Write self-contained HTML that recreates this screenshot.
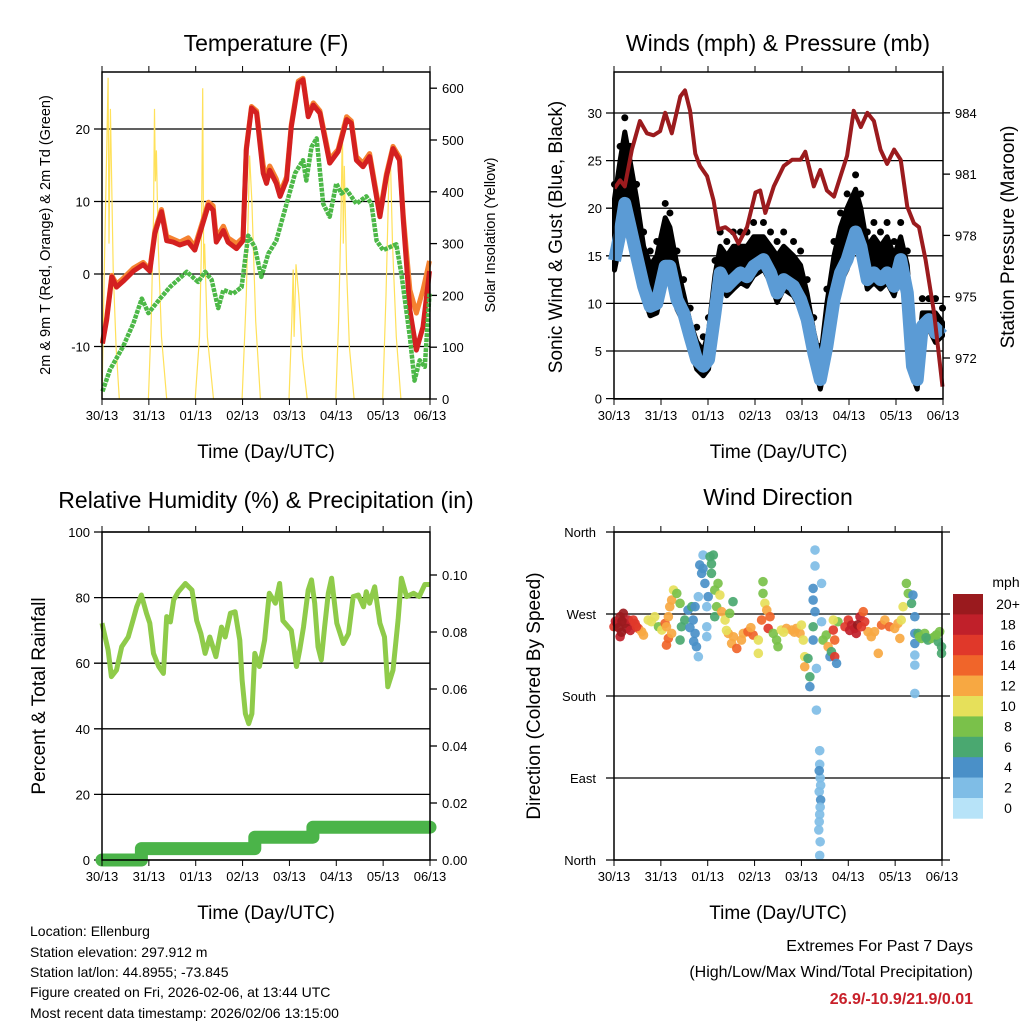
<!DOCTYPE html>
<html><head><meta charset="utf-8">
<style>
html,body{margin:0;padding:0;background:#fff;}
svg{display:block;font-family:"Liberation Sans",Arial,sans-serif;}
</style></head>
<body>
<svg id="root" width="1024" height="1024" viewBox="0 0 1024 1024" xmlns="http://www.w3.org/2000/svg">
<rect x="0" y="0" width="1024" height="1024" fill="#fff"/>
<g id="g1"></g>
<g id="g2"></g>
<g id="g3"></g>
<g id="g4"></g>
<g id="info" font-size="14" fill="#000">
  <text x="30" y="936">Location: Ellenburg</text>
  <text x="30" y="957">Station elevation: 297.912 m</text>
  <text x="30" y="977">Station lat/lon: 44.8955; -73.845</text>
  <text x="30" y="997">Figure created on Fri, 2026-02-06, at 13:44 UTC</text>
  <text x="30" y="1018">Most recent data timestamp: 2026/02/06 13:15:00</text>
  <text x="973" y="951" text-anchor="end" font-size="16">Extremes For Past 7 Days</text>
  <text x="973" y="977" text-anchor="end" font-size="16">(High/Low/Max Wind/Total Precipitation)</text>
  <text x="973" y="1004" text-anchor="end" font-size="16" font-weight="bold" fill="#c8202a">26.9/-10.9/21.9/0.01</text>
</g>
</svg>
<script>
// ---------- data ----------
const dayLabels = ["30/13","31/13","01/13","02/13","03/13","04/13","05/13","06/13"];
const tempTicks = [-10,0,10,20];
const solarTicks = [0,100,200,300,400,500,600];
const windTicks = [0,5,10,15,20,25,30];
const presTicks = [972,975,978,981,984];
const rhTicks = [0,20,40,60,80,100];
const precipTicks = [0,0.02,0.04,0.06,0.08,0.10];
const dirTicks = [0,90,180,270,360];
const dirLabels = ["North","East","South","West","North"];
const speedBins = ["0","2","4","6","8","10","12","14","16","18","20+"];
const speedColors = ["#b7e3f8","#7fbde6","#4a90c8","#4aa870","#7ac14a","#e6e05a","#f7a842","#f0652a","#e0382a","#c0202a","#9a1a1e"];

const tDays = [0.01,0.10,0.21,0.31,0.45,0.67,0.88,1.02,1.13,1.27,1.38,1.52,1.66,1.84,1.98,2.13,2.27,2.37,2.44,2.59,2.69,2.87,3.01,3.08,3.19,3.30,3.44,3.51,3.58,3.72,3.80,3.94,4.04,4.19,4.29,4.40,4.51,4.65,4.86,5.04,5.22,5.32,5.43,5.57,5.71,5.93,6.07,6.21,6.35,6.43,6.57,6.71,6.85,6.99];
const temp2m = [-9.6,-6.3,-0.4,-1.8,-1.0,0.4,1.3,0.4,5.6,8.6,4.6,4.4,4.0,4.4,3.3,6.5,9.5,8.8,4.4,6.0,4.4,3.5,4.6,17.1,22.9,22.2,13.9,12.5,14.3,12.5,10.7,13.0,20.3,26.3,26.8,21.7,23.3,22.2,15.3,16.9,21.3,20.8,15.7,14.8,16.2,7.9,13.4,17.3,15.7,7.4,-5.0,-10.5,-7.3,0.4];
const temp9m = [-9.4,-6.0,-0.2,-1.4,-0.6,0.8,1.6,0.6,6.0,8.9,5.2,4.8,4.4,5.0,3.8,6.9,9.9,9.4,5.0,6.6,5.0,4.2,5.0,17.4,23.1,22.5,15.0,13.2,14.9,13.1,11.2,13.4,20.6,26.6,27.0,22.0,23.6,22.5,15.8,17.2,21.7,21.1,16.2,15.3,16.6,8.4,13.8,17.6,16.1,8.0,-2.2,-5.4,-2.2,1.8];
const tdDays = [0.01,0.17,0.45,0.67,0.85,0.99,1.24,1.45,1.81,2.05,2.20,2.34,2.48,2.59,2.80,2.98,3.12,3.26,3.40,3.55,3.72,3.94,4.12,4.29,4.36,4.47,4.58,4.72,4.86,5.00,5.11,5.22,5.43,5.64,5.75,5.86,6.00,6.14,6.28,6.39,6.57,6.67,6.78,6.89,6.99];
const dewpoint = [-16.2,-13.2,-10.0,-6.8,-3.4,-5.4,-3.4,-1.8,0.3,-1.1,0.3,-0.8,-4.7,-2.2,-2.7,-1.8,5.3,3.7,-0.4,2.8,4.6,9.7,13.9,15.7,12.9,17.5,18.7,9.7,7.9,12.5,11.1,11.6,9.7,10.7,9.7,4.6,3.3,3.7,4.1,0.0,-8.7,-14.7,-11.9,-12.8,-2.7];
const solarDays = [0.0,0.05,0.10,0.13,0.15,0.18,0.20,0.24,0.30,0.37, 0.99,1.05,1.10,1.12,1.14,1.16,1.20,1.27,1.38, 1.99,2.08,2.12,2.15,2.17,2.19,2.25,2.38, 2.99,3.08,3.15,3.20,3.28,3.38, 3.99,4.05,4.08,4.10,4.14,4.20,4.28,4.38, 4.99,5.05,5.10,5.13,5.15,5.17,5.22,5.28,5.38, 5.99,6.06,6.12,6.15,6.20,6.28,6.38,7.0];
const solarVals = [0,250,480,620,300,560,450,250,100,0, 0,150,350,560,420,480,300,120,0, 0,120,280,600,250,300,120,0, 0,200,470,380,150,0, 0,150,250,120,260,200,80,0, 0,150,350,530,300,450,250,100,0, 0,200,420,480,300,120,0,0];

const wDays = [0.01,0.13,0.23,0.34,0.48,0.63,0.77,0.91,1.09,1.19,1.34,1.48,1.62,1.76,1.90,2.01,2.15,2.26,2.40,2.54,2.69,2.83,2.97,3.18,3.33,3.47,3.61,3.82,3.97,4.11,4.25,4.39,4.53,4.68,4.82,4.96,5.14,5.25,5.39,5.53,5.67,5.81,5.96,6.10,6.24,6.35,6.45,6.56,6.70,6.84,6.99];
const sonicWind = [14.5,17.4,20.5,18.1,15,11.8,9.7,10,13.9,13.9,10.4,9,6.5,4.1,3.4,4.1,9,13.2,11.8,12.5,13.2,12.8,13.9,14.6,13.2,11.1,12.5,11.8,10.4,8.3,4.8,2.0,5.5,10.4,13.2,14.6,17.5,16,12.5,13.2,12.5,13.2,11.8,14.6,11.1,3.4,2.0,7.6,8.3,6.9,7.6];
const gustWind = [21,25,28,25,21,16,14,15,19,18,14,11,8,6,5,7,13,16,15,16,16,16,17,17,16,15,16,15,14,11,7,4,10,15,18,20,22,20,16,17,16,17,15,17,14,6,4,9,9,9,8];
const pDays = [0.01,0.13,0.23,0.38,0.55,0.70,0.84,0.98,1.09,1.23,1.41,1.51,1.62,1.73,1.83,1.98,2.12,2.22,2.37,2.54,2.65,2.83,3.01,3.11,3.22,3.40,3.61,3.79,3.97,4.07,4.25,4.39,4.53,4.68,4.82,4.96,5.10,5.25,5.39,5.53,5.67,5.81,5.96,6.10,6.24,6.38,6.49,6.63,6.81,6.99];
const pressure = [980.3,980.7,980.4,982.2,983.6,983.0,982.9,983.1,984.0,983.0,984.8,985.1,984.1,982.0,981.4,980.9,979.7,978.3,978.4,978.1,977.6,978.4,980.1,980.2,979.1,980.4,981.4,981.7,981.7,982.1,980.4,981.2,980.2,979.9,980.9,981.9,984.1,983.3,984.0,983.6,982.2,981.5,982.2,981.7,979.4,978.6,978.4,976.8,974.2,970.6];

const rhDays = [0.00,0.13,0.20,0.31,0.42,0.56,0.66,0.74,0.84,0.95,1.02,1.10,1.21,1.31,1.38,1.46,1.53,1.63,1.78,1.92,2.02,2.11,2.20,2.30,2.43,2.55,2.63,2.74,2.84,2.94,2.99,3.06,3.13,3.20,3.26,3.36,3.47,3.57,3.70,3.79,3.86,4.04,4.15,4.22,4.30,4.40,4.47,4.54,4.61,4.68,4.75,4.83,4.90,5.01,5.15,5.26,5.36,5.47,5.58,5.64,5.71,5.82,5.93,6.03,6.10,6.21,6.32,6.39,6.50,6.65,6.77,6.89,6.99];
const rhVals = [72.2,64,55.9,57.9,65,68,73,77.2,80.8,75.2,72.2,63,59,56.9,74.2,72.6,79.3,81.8,84.3,82.3,73,69,63,68,62,71,68,75.2,75.7,67,54.9,44.6,41.6,44.6,63,59,67,81.3,78.3,84.3,73,70,59,64,71,82.3,85.4,78.3,65,61,71,81.3,85.9,72.2,66,69,80.3,80.8,77.2,81.8,78.3,83.3,72.2,68,52.8,57.9,73.2,85.9,80.3,81.3,80.3,84,84];
const precipDays = [0.0,0.84,0.84,3.26,3.26,4.50,4.50,7.0];
const precipVals = [0.000,0.000,0.004,0.004,0.008,0.008,0.0115,0.0115];

const wdDay = [0.00,0.06,0.13,0.20,0.23,0.31,0.38,0.45,0.52,0.59,0.13,0.27,0.41,0.63,0.03,0.10,0.17,0.35,0.48,0.16,
0.73,0.80,0.87,0.95,1.02,1.09,1.12,1.16,1.19,1.23,1.27,1.34,1.16,1.12,1.23,
1.41,1.44,1.51,1.58,1.66,1.69,1.73,1.76,1.80,1.73,1.80,1.41,1.62,1.70,
1.83,1.87,1.90,1.94,1.98,2.01,1.98,1.98,2.05,2.12,2.08,2.15,2.19,2.15,2.22,2.26,2.30,2.37,2.44,2.51,2.62,2.72,2.54,2.47,2.40,2.55,2.08,1.90,
2.76,2.86,2.97,3.08,3.08,3.15,3.18,3.18,3.22,3.26,3.29,3.33,3.40,3.47,3.50,3.57,3.68,3.79,3.89,3.97,4.00,2.92,3.62,3.85,
4.04,4.07,4.07,4.14,4.18,4.18,4.25,4.25,4.25,4.25,4.29,4.29,4.29,4.32,4.32,4.43,4.43,4.39,4.39,4.40,4.38,4.41,4.39,4.37,4.40,4.39,4.38,4.41,4.40,4.38,
4.46,4.53,4.57,4.61,4.64,4.68,4.71,4.71,4.75,4.78,4.68,
4.93,5.00,5.07,5.14,5.17,5.25,5.32,5.35,5.42,5.49,5.56,5.64,5.71,5.78,5.88,5.99,6.06,6.10,5.03,5.20,5.28,
6.13,6.17,6.24,6.28,6.35,6.38,6.42,6.42,6.42,6.42,6.42,6.42,6.49,6.56,6.63,6.70,6.77,6.84,6.92,6.95,6.99,6.99,6.52,6.66,6.88];
const wdDir = [256.0,259.7,267.0,270.7,259.7,263.4,257.9,259.7,254.2,250.6,245.1,254.2,263.4,246.9,262,255,262,252,256,250,
263.4,261.5,267.0,256.0,252.4,259.7,256.0,267.0,278.0,285.3,296.3,292.6,243.2,235.9,248.7,
241.4,256.0,263.4,274.3,278.0,263.4,248.7,234.1,223.1,278.0,289.0,281.7,255,240,
323.8,314.6,334.7,303.6,278.0,289.0,256.0,245.1,332.9,334.7,314.6,296.3,278.0,267.0,303.6,290.8,272.5,263.4,248.7,237.7,232.2,241.4,283.5,270.7,252,245,325,320,
248.7,250.6,246.9,241.4,226.8,263.4,305.5,292.6,281.7,274.3,254.2,267.0,248.7,241.4,234.1,252.4,254.2,252.4,254.2,248.7,257.9,255,250,250,
241.4,223.1,212.1,221.3,201.1,190.2,241.4,256.0,285.3,298.1,272.5,340.2,322.7,210.3,164.5,303.6,261.5,120,105,90,75,66,50,33,20,5,98,82,58,42,
241.4,246.9,234.1,223.1,228.6,252.4,241.4,223.1,215.8,261.5,263.4,
256.0,263.4,257.9,254.2,248.7,267.0,272.5,261.5,250.6,245.1,250.6,226.8,257.9,263.4,256.0,254.2,259.7,243.2,252,258,256,
263.4,278.0,303.6,292.6,281.7,290.8,267.0,248.7,237.7,224.9,213.9,182.8,248.7,243.2,248.7,241.4,243.2,245.1,239.6,250.6,234.1,226.8,245,244,247];
const wdSpd = [16,18,20,20,18,18,18,16,14,12,18,20,16,12,18,20,20,18,16,20,
10,10,10,8,10,14,12,12,12,12,10,8,14,14,12,
6,6,6,4,6,4,4,4,2,4,2,8,4,4,
4,4,2,4,2,4,2,2,6,6,6,8,8,6,8,10,12,10,12,12,14,12,6,8,10,12,6,4,
12,14,14,10,10,14,8,8,10,12,16,14,8,8,8,10,12,12,12,12,10,12,10,12,
10,10,12,6,6,4,4,6,4,4,4,2,2,2,2,2,2,2,2,2,2,4,2,2,2,2,4,2,2,2,
8,8,12,4,6,16,14,16,4,8,10,
16,16,18,18,18,18,14,16,12,12,12,12,14,12,14,12,12,12,18,20,16,
10,10,8,8,6,4,4,4,4,2,2,2,6,8,8,6,8,8,6,8,6,6,8,6,8];

// ---------- helpers ----------
const NS = "http://www.w3.org/2000/svg";
function mk(parent, tag, attrs, txt) {
  const e = document.createElementNS(NS, tag);
  for (const k in attrs) e.setAttribute(k, attrs[k]);
  if (txt !== undefined) e.textContent = txt;
  parent.appendChild(e);
  return e;
}
function pts(xs, ys, fx, fy) { return xs.map((x, i) => fx(x).toFixed(1) + "," + fy(ys[i]).toFixed(1)).join(" "); }

function frame(g, x0, x1, y0, y1, nm) {
  const r = mk(g, "rect", {x:x0, y:y0, width:x1-x0, height:y1-y0, fill:"none", stroke:"#000", "stroke-width":1.5});
  
  
}
function xAxis(g, x0, x1, y0, y1, nm) {
  const step = (x1 - x0) / 7;
  dayLabels.forEach((lab, i) => {
    const x = x0 + i * step;
    mk(g, "line", {x1:x, x2:x, y1:y1, y2:y1+6, stroke:"#000", "stroke-width":1});
    mk(g, "line", {x1:x, x2:x, y1:y0, y2:y0-6, stroke:"#000", "stroke-width":1});
    const t = mk(g, "text", {x:x, y:y1+21, "text-anchor":"middle", "font-size":13}, lab);
    
    
  });
  const tt = mk(g, "text", {x:(x0+x1)/2, y:y1+59, "text-anchor":"middle", "font-size":19}, "Time (Day/UTC)");
  
  
}
function title(g, x, y, s, nm) {
  const t = mk(g, "text", {x:x, y:y, "text-anchor":"middle", "font-size":23}, s);
  
  
}
function vtitle(g, x, y, s, size, nm) {
  const t = mk(g, "text", {x:x, y:y, "text-anchor":"middle", "font-size":size, transform:"rotate(-90 "+x+" "+y+")"}, s);
  
  
}
function leftTicks(g, vals, labs, fy, x0, x1, grid, nm, fs) {
  vals.forEach((v, i) => {
    const y = fy(v);
    mk(g, "line", {x1:x0-8, x2: grid ? x1 : x0, y1:y, y2:y, stroke:"#000", "stroke-width":1.3});
    const t = mk(g, "text", {x:x0-12, y:y+5, "text-anchor":"end", "font-size":fs||13}, labs[i]);
    
    
  });
}
function rightTicks(g, vals, labs, fy, x1, nm, fs) {
  vals.forEach((v, i) => {
    const y = fy(v);
    mk(g, "line", {x1:x1, x2:x1+7, y1:y, y2:y, stroke:"#000", "stroke-width":1.3});
    const t = mk(g, "text", {x:x1+12, y:y+5, "text-anchor":"start", "font-size":fs||13}, labs[i]);
    
    
  });
}

// ---------- Panel 1: Temperature ----------
(function(){
  const g = document.getElementById("g1");
  const X0=102, X1=430, Y0=72, Y1=399;
  const xd = d => X0 + d * (X1 - X0) / 7;
  const yT = v => 274 - v * 7.25;
  const yS = v => Y1 - v * 0.518;
  title(g, 266, 51, "Temperature (F)", "temperature-title");
  leftTicks(g, tempTicks, tempTicks.map(String), yT, X0, X1, true, "temperature", 13);
  rightTicks(g, solarTicks, solarTicks.map(String), yS, X1, "solar", 13);
  const s = mk(g, "polyline", {points:pts(solarDays, solarVals, xd, yS), fill:"none", stroke:"#ffe15a", "stroke-width":1.2});
  
  
  const o = mk(g, "polyline", {points:pts(tDays, temp9m, xd, yT), fill:"none", stroke:"#f58231", "stroke-width":5, "stroke-linejoin":"round"});
  
  
  const r = mk(g, "polyline", {points:pts(tDays, temp2m, xd, yT), fill:"none", stroke:"#d42020", "stroke-width":5, "stroke-linejoin":"round"});
  
  
  const d = mk(g, "polyline", {points:pts(tdDays, dewpoint, xd, yT), fill:"none", stroke:"#4cb847", "stroke-width":4.5, "stroke-dasharray":"4 1", "stroke-linejoin":"round"});
  
  
  frame(g, X0, X1, Y0, Y1, "temperature");
  xAxis(g, X0, X1, Y0, Y1, "temperature");
  vtitle(g, 50, 235, "2m & 9m T (Red, Orange) & 2m Td (Green)", 14.5, "temperature-y-axis-title");
  vtitle(g, 495, 235, "Solar Insolation (Yellow)", 14.5, "solar-y-axis-title");
})();

// ---------- Panel 2: Winds & Pressure ----------
(function(){
  const g = document.getElementById("g2");
  const X0=614, X1=943, Y0=72, Y1=399;
  const xd = d => X0 + d * (X1 - X0) / 7;
  const yW = v => 398.6 - v * 9.52;
  const yP = p => 358 - (p - 972) * 20.43;
  title(g, 778, 51, "Winds (mph) & Pressure (mb)", "winds-title");
  leftTicks(g, windTicks, windTicks.map(String), yW, X0, X1, true, "wind", 13);
  rightTicks(g, presTicks, presTicks.map(String), yP, X1, "pressure", 13);
  // gust band: area between sonic wind and gust
  const top = wDays.map((dd, i) => xd(dd).toFixed(1) + "," + yW(gustWind[i]).toFixed(1));
  const bot = wDays.map((dd, i) => xd(dd).toFixed(1) + "," + yW(sonicWind[i] - 1).toFixed(1)).reverse();
  const gb = mk(g, "polygon", {points: top.concat(bot).join(" "), fill:"#000", stroke:"#000", "stroke-width":5, "stroke-linejoin":"round"});
  
  
  wDays.forEach((dd, i) => {
    const c = mk(g, "circle", {cx:xd(dd), cy:yW(gustWind[i]+1.5), r:3.5, fill:"#000"});
    
    
  });
  const bl = mk(g, "polyline", {points:pts(wDays, sonicWind, xd, yW), fill:"none", stroke:"#5b9bd5", "stroke-width":13, "stroke-linejoin":"round"});
  
  
  const pl = mk(g, "polyline", {points:pts(pDays, pressure, xd, yP), fill:"none", stroke:"#9b1b1e", "stroke-width":4, "stroke-linejoin":"round"});
  
  
  frame(g, X0, X1, Y0, Y1, "winds");
  xAxis(g, X0, X1, Y0, Y1, "winds");
  vtitle(g, 562, 237, "Sonic Wind & Gust (Blue, Black)", 19, "wind-y-axis-title");
  vtitle(g, 1014, 237, "Station Pressure (Maroon)", 19, "pressure-y-axis-title");
})();

// ---------- Panel 3: RH & Precip ----------
(function(){
  const g = document.getElementById("g3");
  const X0=102, X1=430, Y0=532, Y1=860;
  const xd = d => X0 + d * (X1 - X0) / 7;
  const yR = v => 860 - v * 3.28;
  const yPr = v => 860 - v * 2850;
  title(g, 266, 508, "Relative Humidity (%) & Precipitation (in)", "humidity-title");
  leftTicks(g, rhTicks, rhTicks.map(String), yR, X0, X1, true, "humidity", 13);
  rightTicks(g, precipTicks, precipTicks.map(v => v.toFixed(2)), yPr, X1, "precip", 13);
  const rl = mk(g, "polyline", {points:pts(rhDays, rhVals, xd, yR), fill:"none", stroke:"#8fcb4a", "stroke-width":5, "stroke-linejoin":"round"});
  
  
  const pr = mk(g, "polyline", {points:pts(precipDays, precipVals, xd, yPr), fill:"none", stroke:"#4bb449", "stroke-width":13, "stroke-linejoin":"round", "stroke-linecap":"round"});
  
  
  frame(g, X0, X1, Y0, Y1, "humidity");
  xAxis(g, X0, X1, Y0, Y1, "humidity");
  vtitle(g, 45, 696, "Percent & Total Rainfall", 19, "humidity-y-axis-title");
})();

// ---------- Panel 4: Wind Direction ----------
(function(){
  const g = document.getElementById("g4");
  const X0=614, X1=942, Y0=532, Y1=860;
  const xd = d => X0 + d * (X1 - X0) / 7;
  const yD = v => Y1 - v * (Y1 - Y0) / 360;
  title(g, 778, 505, "Wind Direction", "wind-direction-title");
  dirTicks.forEach((v, i) => {
    const y = yD(v);
    mk(g, "line", {x1:X0-8, x2:X1+8, y1:y, y2:y, stroke:"#000", "stroke-width":1.3});
    const t = mk(g, "text", {x:X0-18, y:y+5, "text-anchor":"end", "font-size":13}, dirLabels[i]);
    
    
  });
  wdDay.forEach((dd, i) => {
    const bin = Math.min(10, Math.floor(wdSpd[i] / 2));
    const c = mk(g, "circle", {cx:xd(dd), cy:yD(wdDir[i]), r:4.8, fill:speedColors[bin], "fill-opacity":0.92});
    
    
  });
  frame(g, X0, X1, Y0, Y1, "wind-direction");
  xAxis(g, X0, X1, Y0, Y1, "wind-direction");
  vtitle(g, 540, 696, "Direction (Colored By Speed)", 19, "direction-y-axis-title");
  // colorbar
  const cb = mk(g, "g", {});
  
  
  const top = 594, h = 20.4;
  speedColors.slice().reverse().forEach((col, i) => {
    const r = mk(cb, "rect", {x:953, y:top + i*h, width:30, height:h+0.3, fill:col});
    
    
  });
  speedBins.slice().reverse().forEach((lab, i) => {
    const t = mk(cb, "text", {x:1008, y:top + i*h + 15, "text-anchor":"middle", "font-size":14}, lab);
    
    
  });
  const u = mk(cb, "text", {x:1006, y:587, "text-anchor":"middle", "font-size":14}, "mph");
  
  
})();
</script>
</body></html>
